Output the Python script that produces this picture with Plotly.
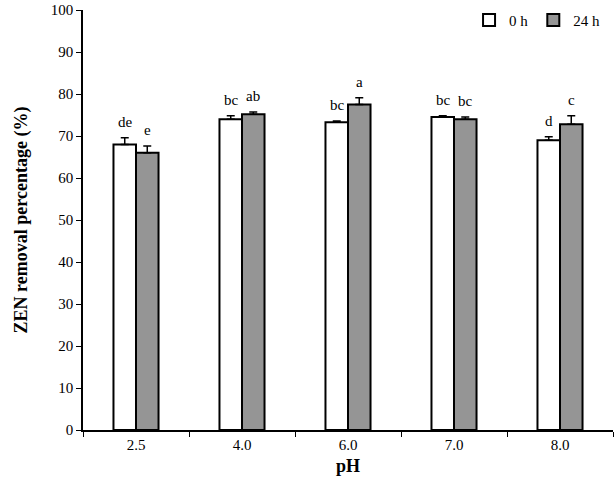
import plotly.graph_objects as go

ph_labels = ["2.5", "4.0", "6.0", "7.0", "8.0"]
removal_0h = [68.0, 74.0, 73.3, 74.5, 69.0]
err_0h = [1.6, 0.8, 0.3, 0.3, 0.8]
removal_24h = [66.0, 75.2, 77.5, 74.0, 72.8]
err_24h = [1.6, 0.5, 1.6, 0.5, 2.0]
letters_0h = ["de", "bc", "bc", "bc", "d"]
letters_24h = ["e", "ab", "a", "bc", "c"]

FONT = "Liberation Serif, Times New Roman, serif"

fig = go.Figure()
fig.add_trace(go.Bar(
    x=ph_labels, y=removal_0h, name="0 h",
    marker=dict(color="white", line=dict(color="black", width=2)),
    error_y=dict(type="data", array=err_0h, arrayminus=[0] * 5,
                 symmetric=False, color="black", thickness=1.5, width=4),
))
fig.add_trace(go.Bar(
    x=ph_labels, y=removal_24h, name="24 h",
    marker=dict(color="#959595", line=dict(color="black", width=2)),
    error_y=dict(type="data", array=err_24h, arrayminus=[0] * 5,
                 symmetric=False, color="black", thickness=1.5, width=4),
))

# significance letters above the error bars (category index as x)
for i, (v, e, t) in enumerate(zip(removal_0h, err_0h, letters_0h)):
    fig.add_annotation(x=i, y=v + e, text=t, showarrow=False,
                       xshift=-11, yshift=16, font=dict(size=15, color="black"))
for i, (v, e, t) in enumerate(zip(removal_24h, err_24h, letters_24h)):
    fig.add_annotation(x=i, y=v + e, text=t, showarrow=False,
                       xshift=11, yshift=16, font=dict(size=15, color="black"))

fig.update_layout(
    width=615, height=502,
    paper_bgcolor="white", plot_bgcolor="white",
    font=dict(family=FONT, size=15, color="black"),
    margin=dict(l=83, r=2, t=8, b=72),
    barmode="group", bargap=0.575, bargroupgap=0,
    showlegend=True,
    legend=dict(orientation="h", x=0.985, xanchor="right", y=1.015, yanchor="top",
                font=dict(size=15), bgcolor="rgba(0,0,0,0)",
                itemwidth=30, tracegroupgap=0),
    xaxis=dict(
        type="category", showline=True, linecolor="black", linewidth=1.5,
        ticks="outside", tickson="boundaries", ticklen=5, tickcolor="black",
        title=dict(text="<b>pH</b>", font=dict(size=18), standoff=8),
        tickfont=dict(size=15),
    ),
    yaxis=dict(
        range=[0, 100], dtick=10, showline=True, linecolor="black", linewidth=1.5,
        ticks="outside", ticklen=5, tickcolor="black", showgrid=False, zeroline=False,
        title=dict(text="<b>ZEN removal percentage (%)</b>", font=dict(size=18), standoff=18),
        tickfont=dict(size=15),
    ),
)

# drop the browser's default page margin so the figure sits at the window corner
fig.write_html("out.html", config={"displayModeBar": False},
               post_script="document.body.style.margin='0';")
